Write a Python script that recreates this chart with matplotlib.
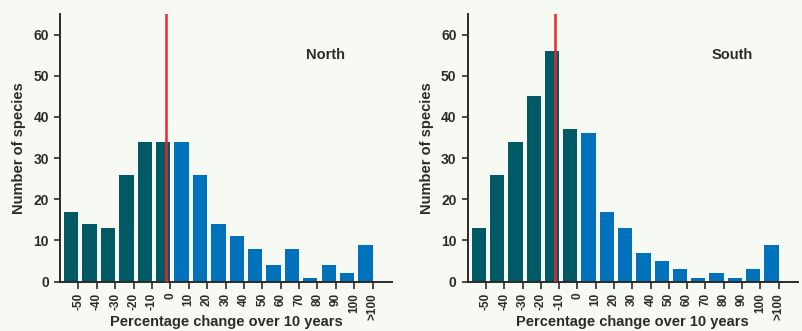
import matplotlib
matplotlib.use('Agg')
import matplotlib.pyplot as plt
import numpy as np

# bins (ticks); each bar sits just left of its tick
tick_labels = ['-50', '-40', '-30', '-20', '-10', '0', '10', '20', '30', '40',
               '50', '60', '70', '80', '90', '100', '>100']

north_counts = [17, 14, 13, 26, 34, 34, 34, 26, 14, 11, 8, 4, 8, 1, 4, 2, 9]
south_counts = [13, 26, 34, 45, 56, 37, 36, 17, 13, 7, 5, 3, 1, 2, 1, 3, 9]

# number of "decline" bins drawn in dark teal
n_dark = 6

# position of red reference line, in % change
north_mean = -2.5
south_mean = -12.0

BG = '#f7faf3'
DARK = '#005a66'
BLUE = '#0071bb'
RED = '#e8262e'
TXT = '#2b2b2b'

plt.rcParams['font.family'] = ['Liberation Sans', 'DejaVu Sans']
plt.rcParams['font.weight'] = 'bold'

fig = plt.figure(figsize=(8.03, 3.31), dpi=100, facecolor=BG)

panels = [
    ('North', north_counts, north_mean, [0.0747, 0.149, 0.4134, 0.809]),
    ('South', south_counts, south_mean, [0.5824, 0.149, 0.4110, 0.809]),
]

bar_w = 0.78
for name, counts, mean, rect in panels:
    ax = fig.add_axes(rect)
    ax.set_facecolor(BG)
    k = np.arange(len(counts))
    colors = [DARK if i < n_dark else BLUE for i in k]
    ax.bar(k - bar_w, counts, width=bar_w, align='edge', color=colors, zorder=2)

    # convert % change to tick-position units (tick 0 -> -50, step 10)
    xm = (mean + 50) / 10.0
    ax.axvline(xm, color=RED, lw=1.8, zorder=3)

    ax.set_xlim(-1, 17.05)
    ax.set_ylim(0, 65)
    ax.set_xticks(k)
    ax.set_xticklabels(tick_labels, rotation=90, fontsize=8.5, color=TXT,
                       fontweight='bold')
    ax.set_yticks([0, 10, 20, 30, 40, 50, 60])
    ax.tick_params(axis='y', labelsize=10, colors=TXT, length=4, width=1.2, pad=4)
    ax.tick_params(axis='x', colors=TXT, length=5, width=1.2, pad=3)
    for lab in ax.get_yticklabels():
        lab.set_fontweight('bold')

    for s in ['top', 'right']:
        ax.spines[s].set_visible(False)
    for s in ['left', 'bottom']:
        ax.spines[s].set_color(TXT)
        ax.spines[s].set_linewidth(1.4)

    ax.set_ylabel('Number of species', fontsize=10.5, fontweight='bold', color=TXT,
                  labelpad=5)
    ax.set_xlabel('Percentage change over 10 years', fontsize=10.5,
                  fontweight='bold', color=TXT, va='bottom')
    ax.xaxis.set_label_coords(0.5, -0.178)
    ax.text(13.45, 55, name, fontsize=10.5, fontweight='bold', color=TXT,
            ha='center', va='center')

fig.savefig('out.png', dpi=100, facecolor=BG)
